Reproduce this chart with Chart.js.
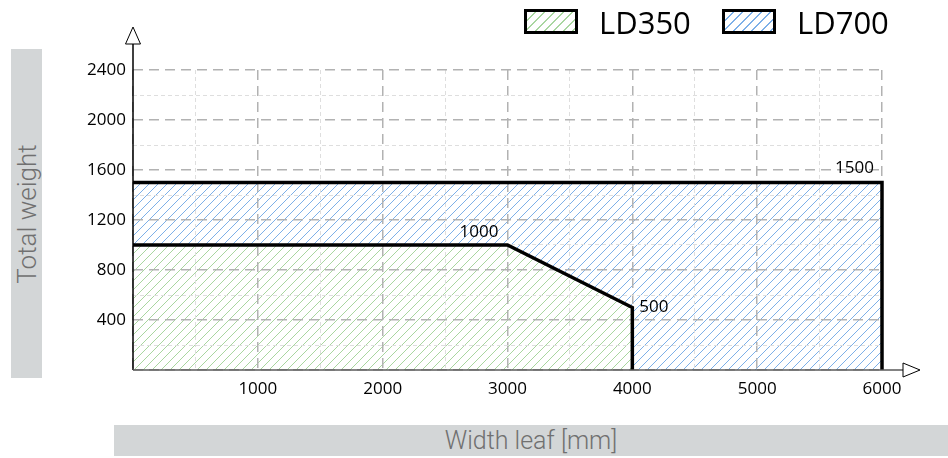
<!DOCTYPE html>
<html>
<head>
<meta charset="utf-8">
<script src="https://cdn.jsdelivr.net/npm/chart.js@4.4.1/dist/chart.umd.min.js"></script>
<style>
  body { margin: 0; background: #fff; }
  #wrap { position: relative; width: 948px; height: 458px; font-family: 'Open Sans', sans-serif; }
  #chartBox { position: absolute; left: 0; top: 0; width: 948px; height: 458px; }
  .axis-title { position: absolute; background: #d3d6d7; color: #707070; font-family: Roboto, sans-serif; font-weight: 300; }
  #yTitle { left: 11px; top: 49px; width: 31px; height: 329px; }
  #yTitle span { position: absolute; left: 50%; top: 50%; transform: translate(-50%, -50%) rotate(-90deg); white-space: nowrap; font-size: 26px; }
  #xTitle { left: 114px; top: 425px; width: 834px; height: 31px; line-height: 31px; text-align: center; font-size: 25px; }
  .swatch { position: absolute; top: 9px; width: 54px; height: 25px; box-sizing: border-box; border: 3px solid #000; }
  .key { position: absolute; top: 5px; font-size: 31px; line-height: 34px; color: #000; }
</style>
</head>
<body>
<div id="wrap">
  <div id="chartBox"><canvas id="loadChart"></canvas></div>
  <div class="axis-title" id="yTitle"><span>Total weight</span></div>
  <div class="axis-title" id="xTitle">Width leaf [mm]</div>
</div>
<script>
// outline of each operator's allowed range: leaf width [mm] vs total weight
const seriesNames = ['LD350', 'LD700'];
const ld350Width = [0, 3000, 4000, 4000];
const ld350Weight = [1000, 1000, 500, 0];
const ld700Width = [0, 6000, 6000];
const ld700Weight = [1500, 1500, 0];

const widthTicks = [1000, 2000, 3000, 4000, 5000, 6000];
const weightTicks = [400, 800, 1200, 1600, 2000, 2400];

const hatchColors = ['#a9d6a0', '#7db0e8'];

const ctx = document.getElementById('loadChart').getContext('2d');

function hatch(color) {
    const s = 9;
    const tile = document.createElement('canvas');
    tile.width = tile.height = s;
    const g = tile.getContext('2d');
    g.fillStyle = '#fff';
    g.fillRect(0, 0, s, s);
    g.strokeStyle = color;
    g.lineWidth = 1;
    g.beginPath();
    g.moveTo(0, s); g.lineTo(s, 0);
    g.moveTo(-1, 1); g.lineTo(1, -1);
    g.moveTo(s - 1, s + 1); g.lineTo(s + 1, s - 1);
    g.stroke();
    return ctx.createPattern(tile, 'repeat');
}

const toPoints = (xs, ys) => xs.map((x, i) => ({ x: x, y: ys[i] }));

// legend boxes, hatched like the areas
const keyLeft = [524, 722];
seriesNames.forEach((name, i) => {
    const sw = document.createElement('div');
    sw.className = 'swatch';
    sw.style.left = keyLeft[i] + 'px';
    sw.style.background = `repeating-linear-gradient(135deg, #fff 0 5.4px, ${hatchColors[i]} 5.4px 6.6px)`;
    const txt = document.createElement('div');
    txt.className = 'key';
    txt.style.left = (keyLeft[i] + 75) + 'px';
    txt.textContent = name;
    document.getElementById('wrap').append(sw, txt);
});

const isMajor = (axis, v) => axis === 'x' ? v % 1000 === 0 : v % 400 === 0;

// axis lines with open arrow heads
const arrowAxes = {
    id: 'arrowAxes',
    afterDatasetsDraw(chart) {
        const { ctx: c, chartArea: a } = chart;
        c.save();
        c.lineWidth = 1.5;
        c.fillStyle = '#fff';
        // y axis
        c.strokeStyle = '#000';
        c.beginPath();
        c.moveTo(a.left, a.bottom);
        c.lineTo(a.left, a.top - 26);
        c.stroke();
        c.lineWidth = 1;
        c.beginPath();
        c.moveTo(a.left, a.top - 43);
        c.lineTo(a.left + 7.5, a.top - 26);
        c.lineTo(a.left - 7.5, a.top - 26);
        c.closePath();
        c.fill(); c.stroke();
        // x axis
        c.strokeStyle = '#5a5a5a';
        c.lineWidth = 1.5;
        c.beginPath();
        c.moveTo(a.left, a.bottom);
        c.lineTo(a.right + 21, a.bottom);
        c.stroke();
        c.strokeStyle = '#000';
        c.lineWidth = 1;
        c.beginPath();
        c.moveTo(a.right + 38, a.bottom);
        c.lineTo(a.right + 21, a.bottom - 7);
        c.lineTo(a.right + 21, a.bottom + 7);
        c.closePath();
        c.fill(); c.stroke();
        c.restore();
    }
};

// weight values written next to the corners of each outline
const cornerLabels = [
    { ds: 1, i: 1, align: 'right', dx: -8, dy: -14 },
    { ds: 0, i: 1, align: 'right', dx: -9, dy: -13 },
    { ds: 0, i: 2, align: 'left', dx: 7, dy: 0 }
];
const valueLabels = {
    id: 'valueLabels',
    afterDatasetsDraw(chart) {
        const c = chart.ctx;
        c.save();
        c.font = '17px "Open Sans", sans-serif';
        c.fillStyle = '#000';
        c.textBaseline = 'middle';
        cornerLabels.forEach(l => {
            const pt = chart.getDatasetMeta(l.ds).data[l.i];
            const v = chart.data.datasets[l.ds].data[l.i].y;
            c.textAlign = l.align;
            c.fillText(String(v), pt.x + l.dx, pt.y + l.dy);
        });
        c.restore();
    }
};

new Chart(ctx, {
    type: 'scatter',
    data: {
        datasets: [
            {
                label: seriesNames[0],
                data: toPoints(ld350Width, ld350Weight),
                backgroundColor: hatch(hatchColors[0]),
                borderColor: '#000',
                borderWidth: 3.5,
                fill: 'origin'
            },
            {
                label: seriesNames[1],
                data: toPoints(ld700Width, ld700Weight),
                backgroundColor: hatch(hatchColors[1]),
                borderColor: '#000',
                borderWidth: 3.5,
                fill: 'origin'
            }
        ].map(d => Object.assign(d, {
            showLine: true,
            tension: 0,
            pointRadius: 0,
            borderJoinStyle: 'miter',
            borderCapStyle: 'butt',
            clip: false
        }))
    },
    options: {
        responsive: true,
        maintainAspectRatio: false,
        animation: false,
        events: [],
        layout: { padding: { top: 70, right: 66, bottom: 0, left: 0 } },
        plugins: {
            legend: { display: false },
            tooltip: { enabled: false },
            filler: { drawTime: 'beforeDraw' }
        },
        scales: {
            x: {
                type: 'linear',
                min: 0,
                max: 6000,
                afterFit: s => { s.height = 88; },
                ticks: {
                    stepSize: 500,
                    autoSkip: false,
                    maxRotation: 0,
                    padding: 9,
                    color: '#000',
                    font: { family: "'Open Sans', sans-serif", size: 17 },
                    callback: v => widthTicks.includes(v) ? String(v) : ''
                },
                grid: {
                    drawTicks: false,
                    color: c => isMajor('x', c.tick.value) ? '#b2b2b2' : '#dedede',
                    lineWidth: c => isMajor('x', c.tick.value) ? 1.5 : 1
                },
                border: {
                    display: false,
                    dash: c => isMajor('x', c.tick.value) ? [10, 6] : [4, 3]
                }
            },
            y: {
                type: 'linear',
                min: 0,
                max: 2400,
                afterFit: s => { s.width = 133; },
                ticks: {
                    stepSize: 200,
                    autoSkip: false,
                    padding: 7,
                    color: '#000',
                    font: { family: "'Open Sans', sans-serif", size: 17 },
                    callback: v => weightTicks.includes(v) ? String(v) : ''
                },
                grid: {
                    drawTicks: false,
                    color: c => isMajor('y', c.tick.value) ? '#b2b2b2' : '#dedede',
                    lineWidth: c => isMajor('y', c.tick.value) ? 1.5 : 1
                },
                border: {
                    display: false,
                    dash: c => isMajor('y', c.tick.value) ? [10, 6] : [4, 3]
                }
            }
        }
    },
    plugins: [arrowAxes, valueLabels]
});
</script>
</body>
</html>
